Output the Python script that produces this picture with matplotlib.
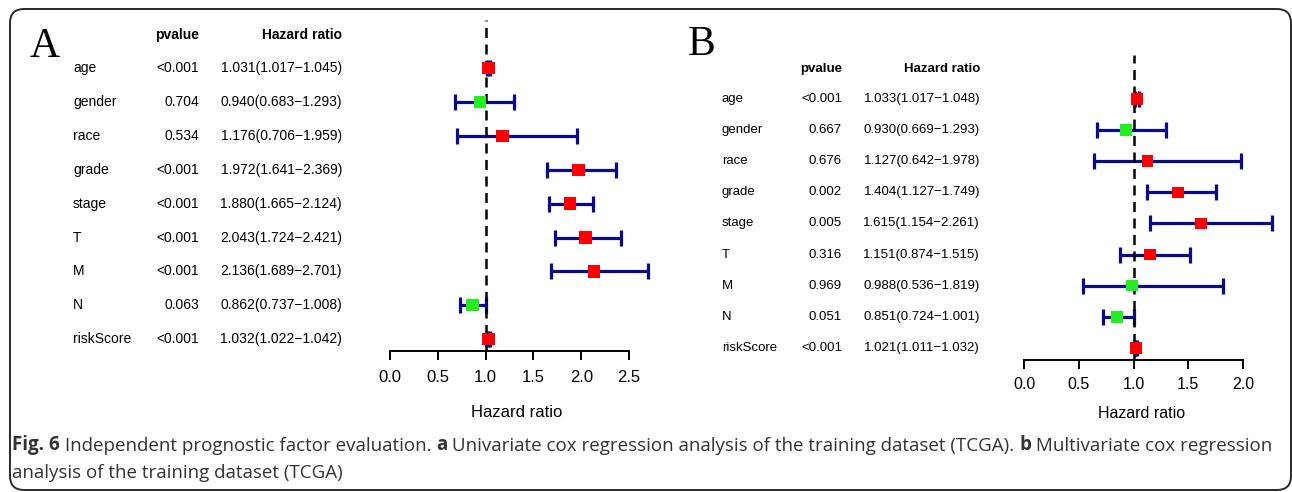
import matplotlib
matplotlib.use("Agg")
import matplotlib.pyplot as plt
from matplotlib.patches import FancyBboxPatch
from matplotlib.transforms import IdentityTransform, blended_transform_factory

# ---- data -------------------------------------------------------------
variables = ["age", "gender", "race", "grade", "stage", "T", "M", "N", "riskScore"]

pval_a = ["<0.001", "0.704", "0.534", "<0.001", "<0.001", "<0.001", "<0.001", "0.063", "<0.001"]
hr_a = [1.031, 0.940, 1.176, 1.972, 1.880, 2.043, 2.136, 0.862, 1.032]
low_a = [1.017, 0.683, 0.706, 1.641, 1.665, 1.724, 1.689, 0.737, 1.022]
high_a = [1.045, 1.293, 1.959, 2.369, 2.124, 2.421, 2.701, 1.008, 1.042]
ticks_a = [0.0, 0.5, 1.0, 1.5, 2.0, 2.5]

pval_b = ["<0.001", "0.667", "0.676", "0.002", "0.005", "0.316", "0.969", "0.051", "<0.001"]
hr_b = [1.033, 0.930, 1.127, 1.404, 1.615, 1.151, 0.988, 0.851, 1.021]
low_b = [1.017, 0.669, 0.642, 1.127, 1.154, 0.874, 0.536, 0.724, 1.011]
high_b = [1.048, 1.293, 1.978, 1.749, 2.261, 1.515, 1.819, 1.001, 1.032]
ticks_b = [0.0, 0.5, 1.0, 1.5, 2.0]

caption_line1 = [("Fig. 6", "bold"), (" Independent prognostic factor evaluation. ", "normal"),
                 ("a", "bold"), (" Univariate cox regression analysis of the training dataset (TCGA). ", "normal"),
                 ("b", "bold"), (" Multivariate cox regression", "normal")]
caption_line2 = "analysis of the training dataset (TCGA)"

W, H = 1292, 492
SANS = "Liberation Sans"
NAVY = "#0a0a8c"
RED = "#ff0000"
GREEN = "#22ee22"

fig = plt.figure(figsize=(W / 100, H / 100), dpi=100)


def forest(letter, letter_xy, ax_px, xlim, ylim, tick_vals, hr, low, high, pvals,
           col_x, fs, tick_fs, msize, tick_pad, label_pad):
    left, top, right, bottom = ax_px
    ax = fig.add_axes([left / W, 1 - bottom / H, (right - left) / W, (bottom - top) / H])
    ax.set_xlim(*xlim)
    ax.set_ylim(*ylim)
    rows = list(range(len(hr)))

    xerr = [[h - l for h, l in zip(hr, low)], [u - h for h, u in zip(hr, high)]]
    ax.errorbar(hr, rows, xerr=xerr, fmt="none", ecolor=NAVY, elinewidth=2.3,
                capsize=5.5, capthick=2.3, zorder=1)
    ax.axvline(1, color="black", lw=1.8, ls=(0, (4, 2.6)), zorder=2)
    colors = [RED if h > 1 else GREEN for h in hr]
    ax.scatter(hr, rows, marker="s", s=msize, c=colors, linewidths=0, zorder=3)

    for s in ["left", "top", "right"]:
        ax.spines[s].set_visible(False)
    ax.spines["bottom"].set_bounds(tick_vals[0], tick_vals[-1])
    ax.spines["bottom"].set_linewidth(1.4)
    ax.set_yticks([])
    ax.set_xticks(tick_vals)
    ax.set_xticklabels([f"{t:.1f}" for t in tick_vals], fontsize=tick_fs, family=SANS)
    ax.tick_params(axis="x", length=6.5, width=1.4, pad=tick_pad)
    ax.set_xlabel("Hazard ratio", fontsize=tick_fs, family=SANS, labelpad=label_pad)
    ax.patch.set_alpha(0)

    # table columns, x in figure pixels, y on the row scale
    tr = blended_transform_factory(fig.transFigure, ax.transData)
    name_x, p_x, hr_x = [c / W for c in col_x]
    head_y = ylim[1] + 0.45
    ax.text(p_x, head_y, "pvalue", transform=tr, ha="right", va="center",
            fontsize=fs, family=SANS, weight="bold")
    ax.text(hr_x, head_y, "Hazard ratio", transform=tr, ha="right", va="center",
            fontsize=fs, family=SANS, weight="bold")
    for i, (name, p, h, l, u) in enumerate(zip(variables, pvals, hr, low, high)):
        ax.text(name_x, i, name, transform=tr, ha="left", va="center", fontsize=fs, family=SANS)
        ax.text(p_x, i, p, transform=tr, ha="right", va="center", fontsize=fs, family=SANS)
        ax.text(hr_x, i, f"{h:.3f}({l:.3f}\u2212{u:.3f})", transform=tr, ha="right",
                va="center", fontsize=fs, family=SANS)

    fig.text(letter_xy[0] / W, 1 - letter_xy[1] / H, letter, ha="left", va="baseline",
             fontsize=30, family="Liberation Serif")
    return ax


# panel A: 0.0 at px 390, 95.6 px per unit
ax_a = forest("A", (30, 57), (390 - 0.2 * 95.6, 20, 390 + 2.85 * 95.6, 351),
              (-0.2, 2.85), (8.35, -1.42), ticks_a, hr_a, low_a, high_a, pval_a,
              (73, 199, 342), 10, 12, 80, 7.5, 14)

# panel B: 0.0 at px 1024, 109.5 px per unit
forest("B", (688, 55), (1024 - 0.2 * 109.5, 55, 1024 + 2.35 * 109.5, 360),
       (-0.2, 2.35), (8.39, -1.415), ticks_b, hr_b, low_b, high_b, pval_b,
       (722, 842, 980), 9.5, 11.5, 70, 6, 10)

# caption, pieces chained left to right
cap = dict(fontsize=13.5, family="Open Sans", color="#333333")
prev = fig.text(12 / W, 1 - 455 / H, caption_line1[0][0], ha="left", va="bottom",
                weight=caption_line1[0][1], **cap)
for txt, wt in caption_line1[1:]:
    prev = ax_a.annotate(txt, xy=(1, 0), xycoords=prev, ha="left", va="bottom",
                         weight=wt, annotation_clip=False, **cap)
fig.text(12 / W, 1 - 482 / H, caption_line2, ha="left", va="bottom", **cap)

# rounded frame
fig.patches.append(FancyBboxPatch((10, 2), 1281, 481, boxstyle="round,pad=0,rounding_size=14",
                                  transform=IdentityTransform(), fill=False, ec="#2a2a2a", lw=1.4))

fig.savefig("out.png", dpi=100)
